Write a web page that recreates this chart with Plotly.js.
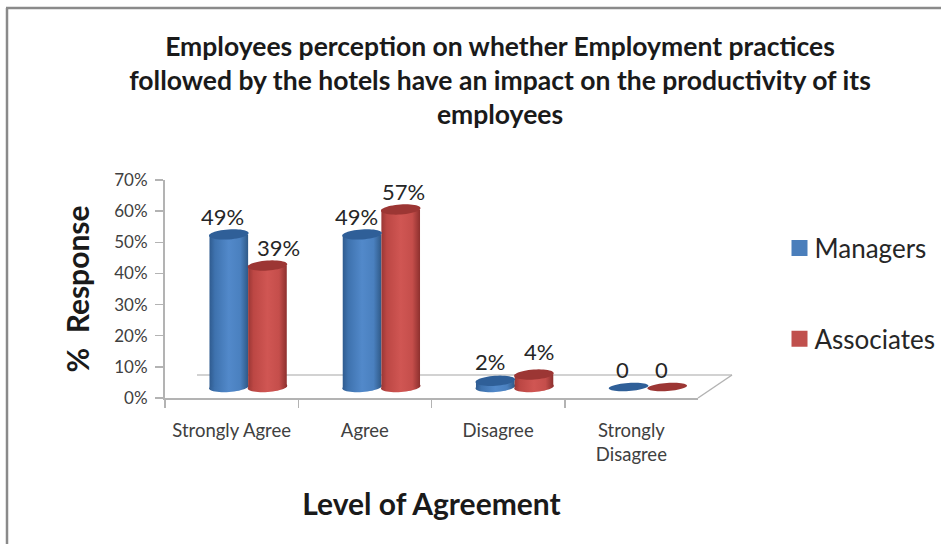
<!DOCTYPE html>
<html>
<head>
<meta charset="utf-8">
<script src="https://cdn.plot.ly/plotly-3.0.1.min.js"></script>
<style>html,body{margin:0;padding:0;background:#fff}#chart{width:941px;height:544px}</style>
</head>
<body>
<div id="chart"></div>
<script>
// ---- data ----
const categories = ['Strongly Agree', 'Agree', 'Disagree', 'Strongly<br>Disagree'];
const managers = [49, 49, 2, 0];
const associates = [39, 57, 4, 0];
const managerLabels = ['49%', '49%', '2%', '0'];
const associateLabels = ['39%', '57%', '4%', '0'];
const yTickVals = [0, 10, 20, 30, 40, 50, 60, 70];
const yTickText = ['0%', '10%', '20%', '30%', '40%', '50%', '60%', '70%'];

// ---- label nudges (px) ----
const managerNudge = [[-6, 18], [-6, 18], [-5, 19], [-6, 18]];
const associateNudge = [[11, 18], [3, 18], [5, 23], [-6, 18]];

// ---- layout constants (px) ----
const W = 941, H = 544;
const plot = {l: 165, r: 698, t: 180, b: 398};
const shift = {x: 16.5, y: 11};
const depth = {x: 34, y: 23};
const pxPerCat = (plot.r - plot.l) / categories.length;
const pxPerVal = (plot.b - plot.t) / 70;
const barGap = 0.42;
const barPx = pxPerCat * (1 - barGap) / 2;
const below = 5; // axis units kept under zero so the lower rims are not clipped
const fx = p => p / W, fy = p => 1 - p / H;

function ellipsePath(catIdx, side, val, ry, tilt) {
  // outline in the units of the shifted axes
  const rx = barPx / 2 + 0.5;
  const cx = catIdx + side * barPx / 2 / pxPerCat;
  const pts = [];
  for (let i = 0; i < 48; i++) {
    const a = i / 48 * 2 * Math.PI;
    const ex = rx * Math.cos(a), ey = ry * Math.sin(a);
    const dx = ex * Math.cos(tilt) - ey * Math.sin(tilt);
    const dy = ex * Math.sin(tilt) + ey * Math.cos(tilt);
    pts.push((i ? 'L' : 'M') + (cx + dx / pxPerCat) + ',' + (val + dy / pxPerVal));
  }
  return pts.join(' ') + ' Z';
}
const catIndex = categories.map((_, i) => i);
const BLUE_TOP = '#2f5f98', RED_TOP = '#9c3634';
const TILT = 0.07;
const GREY = '#b3b3b3', FRAME = '#8a8a8a';

const shapes = [
  // picture frame
  {type: 'line', xref: 'paper', yref: 'paper', x0: fx(7), x1: fx(7), y0: fy(8), y1: fy(544), line: {color: FRAME, width: 2.5}},
  {type: 'line', xref: 'paper', yref: 'paper', x0: fx(6), x1: fx(941), y0: fy(8), y1: fy(8), line: {color: FRAME, width: 2.5}},
  // floor
  {type: 'line', xref: 'paper', yref: 'paper', x0: fx(197), x1: fx(plot.r + depth.x), y0: fy(plot.b - depth.y), y1: fy(plot.b - depth.y), line: {color: '#d2d2d2', width: 2}, layer: 'below'},
  {type: 'line', xref: 'paper', yref: 'paper', x0: fx(plot.r), x1: fx(plot.r + depth.x), y0: fy(plot.b), y1: fy(plot.b - depth.y), line: {color: GREY, width: 1.5}, layer: 'below'}
];
const bottomIdx = {m: [], a: []};
catIndex.forEach(i => {
  [[managers, -1, 'm', BLUE_TOP], [associates, 1, 'a', RED_TOP]].forEach(([vals, side, key, top]) => {
    if (vals[i] > 0) {
      bottomIdx[key].push(shapes.length);
      shapes.push({type: 'path', xref: 'x2', yref: 'y2', layer: 'below', path: ellipsePath(i, side, 0, 5, TILT), fillcolor: top, line: {width: 0}});
    }
    shapes.push({type: 'path', xref: 'x2', yref: 'y2', layer: 'above', path: ellipsePath(i, side, vals[i], vals[i] > 0 ? 5 : 4, TILT), fillcolor: top, line: {width: 0}});
  });
});

const annotations = [];
catIndex.forEach(i => {
  [[managers, managerLabels, managerNudge, -1], [associates, associateLabels, associateNudge, 1]].forEach(([v, l, n, side]) => {
    annotations.push({
      xref: 'x2', yref: 'y2', x: i + side * barPx / 2 / pxPerCat, y: v[i], text: l[i], showarrow: false,
      xshift: n[i][0], yshift: n[i][1], font: {family: 'Lato, sans-serif', size: 22, color: '#262626'}
    });
  });
});

const xvals = catIndex;
const traces = [
  {type: 'scatter', mode: 'none', x: categories, y: categories.map(() => 0), xaxis: 'x', yaxis: 'y', showlegend: false, hoverinfo: 'skip'},
  {type: 'bar', name: 'Managers', x: xvals, y: managers, xaxis: 'x2', yaxis: 'y2', legendgroup: 'm', marker: {color: '#4a7ebb', line: {width: 0}}},
  {type: 'bar', name: 'Associates', x: xvals, y: associates, xaxis: 'x2', yaxis: 'y2', legendgroup: 'a', marker: {color: '#c0504d', line: {width: 0}}}
];

const layout = {
  width: W, height: H, margin: {l: 0, r: 0, t: 0, b: 0},
  paper_bgcolor: '#fff', plot_bgcolor: 'rgba(0,0,0,0)',
  font: {family: 'Lato, sans-serif', color: '#404040'},
  title: {
    text: 'Employees perception on whether Employment practices<br>followed by the hotels have an impact on the productivity of its<br>employees',
    font: {family: 'Lato, sans-serif', size: 26.5, color: '#1a1a1a', weight: 'bold'},
    x: 500 / W, xanchor: 'center', y: 1 - 55.5 / H, yanchor: 'top', yref: 'container'
  },
  barmode: 'group', bargap: barGap, bargroupgap: 0,
  xaxis: {
    domain: [fx(plot.l), fx(plot.r)], anchor: 'y', type: 'category', categoryorder: 'array', categoryarray: categories,
    range: [-0.5, 3.5], tickson: 'boundaries', ticks: 'outside', ticklen: 8, tickwidth: 1.5, tickcolor: GREY,
    showline: true, linecolor: GREY, linewidth: 2, showgrid: false, zeroline: false, fixedrange: true,
    tickfont: {family: 'Lato, sans-serif', size: 18.5, color: '#404040'}, tickangle: 0, ticklabelstandoff: 15,
    title: {text: 'Level of Agreement', font: {family: 'Lato, sans-serif', size: 30, color: '#1a1a1a', weight: 'bold'}, standoff: 30}
  },
  yaxis: {
    domain: [fy(plot.b), fy(plot.t)], anchor: 'x', range: [0, 70], tickmode: 'array', tickvals: yTickVals, ticktext: yTickText,
    ticks: 'outside', ticklen: 8, tickwidth: 1.5, tickcolor: GREY, showline: true, linecolor: GREY, linewidth: 2,
    showgrid: false, zeroline: false, fixedrange: true, ticklabelstandoff: 4,
    tickfont: {family: 'Lato, sans-serif', size: 17, color: '#404040'},
    title: {text: '%  Response', font: {family: 'Lato, sans-serif', size: 30, color: '#1a1a1a', weight: 'bold'}, standoff: 16}
  },
  xaxis2: {
    domain: [fx(plot.l + shift.x), fx(plot.r + shift.x)], anchor: 'y2', range: [-0.5, 3.5], visible: false, fixedrange: true
  },
  yaxis2: {
    domain: [fy(plot.b - shift.y + below * pxPerVal), fy(plot.t - shift.y)], anchor: 'x2', range: [-below, 70], visible: false, fixedrange: true
  },
  legend: {
    x: 774.5 / W, y: 1 - 224.5 / H, xanchor: 'left', yanchor: 'top', traceorder: 'grouped', tracegroupgap: 54,
    font: {family: 'Lato, sans-serif', size: 26, color: '#262626'}, bgcolor: 'rgba(0,0,0,0)'
  },
  shapes, annotations
};

Plotly.newPlot('chart', traces, layout, {staticPlot: true, displayModeBar: false}).then(gd => {
  const NS = 'http://www.w3.org/2000/svg';
  const svg = gd.querySelector('svg.main-svg');
  const defs = document.createElementNS(NS, 'defs');
  function grad(id, stops) {
    const g = document.createElementNS(NS, 'linearGradient');
    g.setAttribute('id', id);
    g.setAttribute('x1', '0'); g.setAttribute('x2', '1'); g.setAttribute('y1', '0'); g.setAttribute('y2', '0');
    stops.forEach(([o, c]) => {
      const s = document.createElementNS(NS, 'stop');
      s.setAttribute('offset', o); s.setAttribute('stop-color', c);
      g.appendChild(s);
    });
    defs.appendChild(g);
  }
  grad('gm', [[0, '#2f5b8f'], [0.14, '#3e72ae'], [0.5, '#5289ca'], [0.8, '#4a80bf'], [1, '#2f5987']]);
  grad('ga', [[0, '#9a3735'], [0.14, '#bc4744'], [0.5, '#d05653'], [0.8, '#c54e4b'], [1, '#8d302e']]);
  svg.insertBefore(defs, svg.firstChild);
  const bars = gd.querySelectorAll('.barlayer .trace');
  ['gm', 'ga'].forEach((id, i) => bars[i].querySelectorAll('path').forEach(p => { p.style.fill = `url(#${id})`; }));
  [['m', 'gm'], ['a', 'ga']].forEach(([k, id]) => bottomIdx[k].forEach(ix => {
    gd.querySelectorAll(`.shapelayer path[data-index="${ix}"]`).forEach(p => { p.style.fill = `url(#${id})`; p.style.fillOpacity = 1; });
  }));
  gd.querySelectorAll('.legend .legendpoints path').forEach(p => p.setAttribute('d', 'M13,8H-3V-8H13Z'));
});
</script>
</body>
</html>
